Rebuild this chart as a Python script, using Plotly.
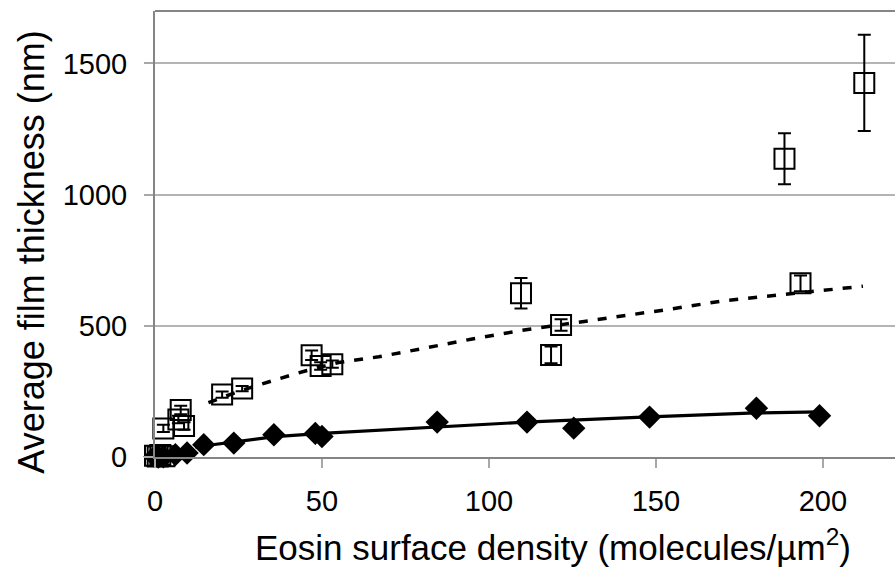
import plotly.graph_objects as go

# Film thickness (open squares, with standard-deviation error bars)
sq_x = [0.0, 0.8, 1.6, 2.8, 2.5, 7.0, 7.7, 8.7, 20.1, 26.1, 46.9, 49.6, 53.1,
        109.6, 118.6, 121.6, 188.5, 193.3, 212.4]
sq_y = [5, 2, 8, 3, 109, 143, 179, 118, 238, 261, 388, 347, 354,
        624, 389, 503, 1137, 662, 1426]
sq_err = [4, 4, 4, 4, 14, 14, 16, 14, 12, 10, 18, 14, 14,
          58, 32, 22, 97, 30, 183]

# Film thickness (filled diamonds)
dm_x = [0.0, 1.0, 2.5, 6.1, 9.6, 14.6, 23.6, 35.6, 48.0, 50.0,
        84.5, 111.4, 125.4, 148.1, 180.1, 199.0]
dm_y = [2, 0, 1, 9, 15, 47, 53, 85, 90, 78,
        133, 133, 110, 152, 186, 157]

# Model curves
dash_x = [16, 25, 35, 45, 55, 67, 80, 95, 110, 125, 140, 155, 170, 185, 200, 212]
dash_y = [207, 250, 290, 328, 360, 382, 413, 450, 483, 510, 537, 565, 595, 615, 635, 651]

solid_x = [12, 24, 36, 50, 68, 85, 111, 146, 180, 199]
solid_y = [38, 58, 78, 90, 102, 116, 133, 152, 168, 172]

x_ticks = [0, 50, 100, 150, 200]
y_ticks = [0, 500, 1000, 1500]

FONT = "Liberation Sans, Arial, sans-serif"
AXIS_GRAY = "#858585"

fig = go.Figure()

fig.add_trace(go.Scatter(
    x=dash_x, y=dash_y, mode="lines",
    line=dict(color="black", width=3.5, dash="9px,10px"),
    hoverinfo="skip", showlegend=False,
))
fig.add_trace(go.Scatter(
    x=solid_x, y=solid_y, mode="lines",
    line=dict(color="black", width=3.2),
    hoverinfo="skip", showlegend=False,
))
fig.add_trace(go.Scatter(
    x=sq_x, y=sq_y, mode="markers",
    marker=dict(symbol="square-open", size=20, color="black",
                line=dict(color="black", width=2)),
    error_y=dict(type="data", array=sq_err, visible=True,
                 color="black", thickness=2, width=6.5),
    cliponaxis=False, showlegend=False,
))
fig.add_trace(go.Scatter(
    x=dm_x, y=dm_y, mode="markers",
    marker=dict(symbol="diamond", size=18, color="black",
                line=dict(width=0)),
    cliponaxis=False, showlegend=False,
))

# top frame line
fig.add_shape(type="line", xref="paper", yref="paper", x0=0, x1=1, y0=1, y1=1,
              line=dict(color=AXIS_GRAY, width=2))

fig.add_annotation(
    text="Eosin surface density (molecules/µm<sup>2</sup>)",
    xref="paper", yref="paper", x=0.538, y=-0.197,
    xanchor="center", yanchor="middle", showarrow=False,
    font=dict(family=FONT, size=35, color="black"),
)
fig.add_annotation(
    text="Average film thickness (nm)",
    xref="paper", yref="paper", x=-0.167, y=0.459,
    xanchor="center", yanchor="middle", showarrow=False, textangle=-90,
    font=dict(family=FONT, size=36, color="black"),
)

fig.update_layout(
    width=895, height=573,
    margin=dict(l=155, r=0, t=11, b=116),
    paper_bgcolor="white", plot_bgcolor="white",
    font=dict(family=FONT, color="black"),
    showlegend=False,
)
fig.update_xaxes(
    range=[0, 221.6], tickvals=x_ticks, ticktext=[str(v) for v in x_ticks],
    showgrid=False, zeroline=False,
    showline=True, linecolor=AXIS_GRAY, linewidth=2,
    ticks="outside", ticklen=9, tickwidth=1.5, tickcolor="#a8a8a8",
    tickfont=dict(family=FONT, size=29, color="black"),
    ticklabelstandoff=8,
)
fig.update_yaxes(
    range=[0, 1700], tickvals=y_ticks, ticktext=[str(v) for v in y_ticks],
    showgrid=True, gridcolor="#b4b4b4", gridwidth=1.5, zeroline=False,
    showline=True, linecolor=AXIS_GRAY, linewidth=2,
    ticks="outside", ticklen=9, tickwidth=1.5, tickcolor="#a8a8a8",
    tickfont=dict(family=FONT, size=29, color="black"),
    ticklabelstandoff=11,
)

fig.write_html("out.html")
